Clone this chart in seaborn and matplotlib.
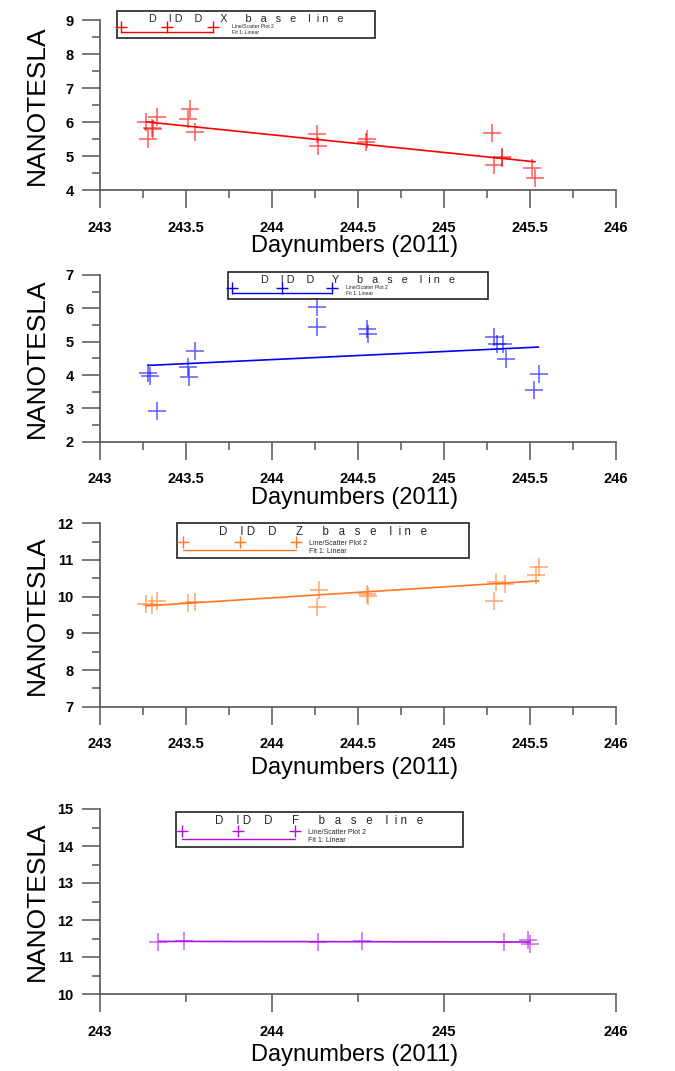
import numpy as np
import pandas as pd
import seaborn as sns
import matplotlib.pyplot as plt
from matplotlib.lines import Line2D
from matplotlib.ticker import MultipleLocator

# DIDD baseline values (nT) against day number 2011
day_x = [243.27, 243.30, 243.28, 243.33, 243.31, 243.525, 243.51, 243.555,
         244.26, 244.27, 244.55, 244.545, 245.28, 245.29, 245.335, 245.34,
         245.51, 245.53]
val_x = [5.99, 5.83, 5.51, 6.15, 5.78, 6.39, 6.08, 5.72,
         5.65, 5.30, 5.50, 5.42, 5.69, 4.74, 4.93, 4.97,
         4.64, 4.34]

day_y = [244.26, 244.26, 244.55, 244.56, 243.55, 243.51, 243.52, 243.28,
         243.29, 243.33, 245.29, 245.31, 245.345, 245.36, 245.55, 245.525]
val_y = [6.04, 5.43, 5.38, 5.23, 4.73, 4.24, 3.94, 4.07,
         3.97, 2.91, 5.13, 4.93, 4.93, 4.48, 4.02, 3.55]

day_z = [243.27, 243.30, 243.33, 243.51, 243.55, 244.275, 244.26, 244.555,
         244.56, 245.30, 245.355, 245.29, 245.535, 245.55]
val_z = [9.80, 9.78, 9.89, 9.84, 9.86, 10.18, 9.73, 10.07,
         10.02, 10.41, 10.35, 9.89, 10.59, 10.82]

day_f = [243.34, 243.49, 244.27, 244.525, 245.35, 245.49, 245.50]
val_f = [11.41, 11.43, 11.41, 11.43, 11.40, 11.46, 11.35]

xticks_half = [243, 243.5, 244, 244.5, 245, 245.5, 246]
xlabels_half = ['243', '243.5', '244', '244.5', '245', '245.5', '246']
xticks_int = [243, 244, 245, 246]
xlabels_int = ['243', '244', '245', '246']

title_tpl = 'D    I D    D      {}      b   a   s   e    l  i n   e'
entry_labels = ['Line/Scatter Plot 2', 'Fit 1: Linear']

sns.set_theme(style='white')
plt.rcParams['font.family'] = ['Liberation Sans', 'DejaVu Sans']

W, H = 675, 1071
fig = plt.figure(figsize=(W / 100, H / 100), dpi=100)
AX_L, AX_R = 100, 616
GREY = '#555555'


def draw_panel(days, vals, color, comp, ylim, ax_top, ax_bot, xlab_y,
               xticks, xlabels, xminor, leg_box, leg_fs, title_fs, hl, htp):
    ax = fig.add_axes([AX_L / W, 1 - ax_bot / H, (AX_R - AX_L) / W, (ax_bot - ax_top) / H])
    df = pd.DataFrame({'day': days, 'nt': vals})

    sns.regplot(data=df, x='day', y='nt', scatter=False, ci=None, truncate=True,
                color=color, line_kws={'lw': 1.2, 'zorder': 3}, ax=ax)
    sns.scatterplot(data=df, x='day', y='nt', marker='+', s=180, color=color,
                    linewidth=1.1, alpha=0.65, zorder=4, legend=False, ax=ax)

    ax.set_xlim(243, 246)
    ax.set_ylim(*ylim)
    ax.set_xticks(xticks, xlabels, fontweight='bold')
    yt = list(range(ylim[0], ylim[1] + 1))
    ax.set_yticks(yt, [str(v) for v in yt], fontweight='bold')
    ax.xaxis.set_minor_locator(MultipleLocator(xminor))
    ax.yaxis.set_minor_locator(MultipleLocator(0.5))

    sns.despine(ax=ax)
    for s in ['left', 'bottom']:
        ax.spines[s].set_color(GREY)
        ax.spines[s].set_linewidth(1.2)
    ax.tick_params(which='both', direction='out', color=GREY, width=1.1,
                   bottom=True, left=True, labelsize=10.5, labelcolor='black')
    ax.tick_params(which='major', length=13)
    ax.tick_params(which='minor', length=6)
    ax.tick_params(axis='x', pad=9)
    ax.tick_params(axis='y', pad=6)

    ax.set_xlabel('Daynumbers (2011)', fontsize=17, color='black')
    ax.xaxis.set_label_coords(0.494, -(xlab_y - ax_bot) / (ax_bot - ax_top))
    ax.xaxis.label.set_va('center')
    ax.set_ylabel('NANOTESLA', fontsize=19, color='black')
    ax.yaxis.set_label_coords((37 - AX_L) / (AX_R - AX_L), 0.5)
    ax.yaxis.label.set_va('center')

    handles = [Line2D([], [], color=color, marker='+', ls='none', markersize=9, mew=1.0),
               Line2D([], [], color=color, lw=1.0)]
    l, t, r, b = leg_box
    leg = ax.legend(handles, entry_labels, title=title_tpl.format(comp),
                    loc='upper left', bbox_to_anchor=(l / W, 1 - b / H, (r - l) / W, (b - t) / H),
                    bbox_transform=fig.transFigure, mode='expand', borderaxespad=0,
                    fontsize=leg_fs, title_fontsize=title_fs, numpoints=3,
                    handlelength=hl, handletextpad=htp, borderpad=0.5,
                    labelspacing=0.15, fancybox=False, framealpha=1,
                    edgecolor='#222222')
    leg.get_frame().set_linewidth(1.2)
    leg.set_zorder(2)
    return ax


draw_panel(day_x, val_x, '#ff0000', 'X', (4, 9), 20, 190, 246,
           xticks_half, xlabels_half, 0.25, (117, 11, 375, 41), 3.7, 7.8, 18.5, 3.3)
draw_panel(day_y, val_y, '#0000ff', 'Y', (2, 7), 275, 441.7, 498,
           xticks_half, xlabels_half, 0.25, (228, 272, 488, 302), 3.7, 7.8, 20, 2.4)
draw_panel(day_z, val_z, '#ff7722', 'Z', (7, 12), 523.3, 706.7, 768,
           xticks_half, xlabels_half, 0.25, (177, 523, 469, 561), 5.0, 8.3, 17, 1.5)
draw_panel(day_f, val_f, '#b010e0', 'F', (10, 15), 809, 994, 1055,
           xticks_int, xlabels_int, 0.5, (176, 812, 463, 849), 5.0, 8.3, 17, 1.5)

fig.savefig('out.png', dpi=100)
